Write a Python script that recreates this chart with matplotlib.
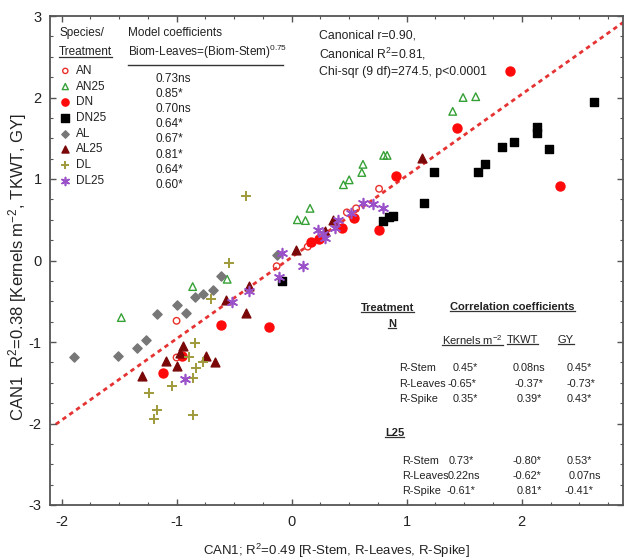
import matplotlib
matplotlib.use('Agg')
import matplotlib.pyplot as plt
from matplotlib.lines import Line2D
from matplotlib.transforms import IdentityTransform
from matplotlib.ticker import MultipleLocator

plt.rcParams['font.family'] = ['Liberation Sans', 'DejaVu Sans']
plt.rcParams['mathtext.fontset'] = 'custom'
plt.rcParams['mathtext.rm'] = 'Liberation Sans'
plt.rcParams['mathtext.it'] = 'Liberation Sans:italic'
plt.rcParams['mathtext.bf'] = 'Liberation Sans:bold'
plt.rcParams['mathtext.default'] = 'regular'
plt.rcParams['axes.unicode_minus'] = False

# ---------------- data ----------------
an_x = [0.76, 0.56, 0.48, 0.14, -0.13, -1.00, -1.00]
an_y = [0.88, 0.64, 0.59, 0.17, -0.07, -0.74, -1.19]

an25_x = [1.60, 1.49, 1.40, 0.80, 0.83, 0.62, 0.61, 0.50, 0.45, 0.16, 0.05, 0.12, -0.86, -0.56, -1.48]
an25_y = [2.01, 2.00, 1.83, 1.29, 1.29, 1.18, 1.08, 0.99, 0.93, 0.64, 0.50, 0.49, -0.32, -0.23, -0.70]

dn_x = [1.90, 1.44, 2.33, 0.91, 0.76, 0.54, 0.44, 0.24, 0.17, -0.61, -0.20, -0.95, -1.12]
dn_y = [2.32, 1.63, 0.91, 1.04, 0.38, 0.52, 0.40, 0.26, 0.23, -0.79, -0.81, -1.17, -1.38]

dn25_x = [2.63, 2.13, 2.13, 2.24, 1.93, 1.83, 1.68, 1.62, 1.24, 1.15, 0.88, 0.85, 0.79, -0.08]
dn25_y = [1.94, 1.64, 1.57, 1.37, 1.45, 1.39, 1.19, 1.09, 1.09, 0.71, 0.54, 0.53, 0.49, -0.25]

al_x = [-1.89, -1.51, -1.34, -1.27, -1.17, -1.00, -0.92, -0.84, -0.77, -0.68, -0.61, -0.13]
al_y = [-1.19, -1.17, -1.07, -0.97, -0.66, -0.55, -0.64, -0.45, -0.41, -0.36, -0.19, 0.07]

al25_x = [1.13, 0.36, 0.29, 0.04, -0.37, -0.57, -0.40, -0.94, -0.97, -0.74, -0.67, -1.09, -1.00, -1.30]
al25_y = [1.26, 0.50, 0.36, 0.13, -0.31, -0.48, -0.64, -1.05, -1.13, -1.17, -1.24, -1.23, -1.30, -1.42]

dl_x = [-0.40, -0.54, -0.70, -0.84, -0.89, -0.77, -0.83, -0.86, -1.04, -1.24, -1.17, -1.20, -0.86]
dl_y = [0.79, -0.03, -0.47, -1.01, -1.19, -1.25, -1.32, -1.44, -1.54, -1.62, -1.83, -1.95, -1.89]

dl25_x = [0.62, 0.71, 0.79, 0.52, 0.40, 0.38, 0.23, 0.29, 0.27, -0.08, 0.10, -0.11, -0.37, -0.52, -0.93]
dl25_y = [0.71, 0.69, 0.64, 0.58, 0.50, 0.40, 0.38, 0.28, 0.33, 0.09, -0.07, -0.20, -0.37, -0.51, -1.46]

labels = ['AN', 'AN25', 'DN', 'DN25', 'AL', 'AL25', 'DL', 'DL25']
model_coefs = ['0.73ns', '0.85*', '0.70ns', '0.64*', '0.67*', '0.81*', '0.64*', '0.60*']

fit_slope = 1.0
fit_intercept = 0.04
fit_x = [-2.05, 2.95]

corr_cols = ['Kernels m$^{-2}$', 'TKWT', 'GY']
corr_rows = ['R-Stem', 'R-Leaves', 'R-Spike']
corr_N = [['0.45*', '0.08ns', '0.45*'],
          ['-0.65*', '-0.37*', '-0.73*'],
          ['0.35*', '0.39*', '0.43*']]
corr_L25 = [['0.73*', '-0.80*', '0.53*'],
            ['0.22ns', '-0.62*', '0.07ns'],
            ['-0.61*', '0.81*', '-0.41*']]

# ---------------- figure ----------------
W, H = 624, 559
fig = plt.figure(figsize=(W / 100, H / 100), dpi=100)
AX_L, AX_R, AX_T, AX_B = 50, 623, 16, 505
ax = fig.add_axes([AX_L / W, 1 - AX_B / H, (AX_R - AX_L) / W, (AX_B - AX_T) / H])
ax.set_xlim(-2.1, 2.88)
ax.set_ylim(-3, 3)

def P(px, py):
    return ((px - AX_L) / (AX_R - AX_L), (AX_B - py) / (AX_B - AX_T))

TXT = '#222222'

styles = {
    'AN':   dict(marker='o', s=22, facecolors='none', edgecolors='#e8302a', linewidths=1.0),
    'AN25': dict(marker='^', s=30, facecolors='none', edgecolors='#35a035', linewidths=1.0),
    'DN':   dict(marker='o', s=42, color='#ff0a0a'),
    'DN25': dict(marker='s', s=40, color='#000000'),
    'AL':   dict(marker='D', s=22, color='#777777'),
    'AL25': dict(marker='^', s=40, color='#7a0808'),
    'DL':   dict(marker='+', s=55, color='#a09a3c', linewidths=1.4),
    'DL25': dict(marker=(6, 2, 0), s=50, color='#9a50c8', linewidths=1.2),
}
series = {
    'AN': (an_x, an_y), 'AN25': (an25_x, an25_y), 'DN': (dn_x, dn_y), 'DN25': (dn25_x, dn25_y),
    'AL': (al_x, al_y), 'AL25': (al25_x, al25_y), 'DL': (dl_x, dl_y), 'DL25': (dl25_x, dl25_y),
}

fit_y = [fit_slope * v + fit_intercept for v in fit_x]
ax.plot(fit_x, fit_y, color='#e53333', lw=2.0, linestyle=(0, (1.6, 1.4)), zorder=1)

handles = []
for lab in labels:
    xs, ys = series[lab]
    h = ax.scatter(xs, ys, zorder=3, **styles[lab])
    handles.append(h)

leg = ax.legend(handles, labels, loc='upper left', bbox_to_anchor=P(60, 65),
                frameon=False, fontsize=8.5, borderpad=0, borderaxespad=0,
                handlelength=0.9, handletextpad=0.45, labelspacing=0.31,
                scatterpoints=1, markerscale=0.8)
for t in leg.get_texts():
    t.set_color(TXT)

# axes styling
for sp in ax.spines.values():
    sp.set_color('#555555')
    sp.set_linewidth(1.3)
ax.xaxis.set_major_locator(MultipleLocator(1))
ax.xaxis.set_minor_locator(MultipleLocator(0.25))
ax.yaxis.set_major_locator(MultipleLocator(1))
ax.yaxis.set_minor_locator(MultipleLocator(0.25))
ax.tick_params(which='both', direction='in', top=True, right=True, colors='#555555',
               labelcolor=TXT, labelsize=10.5)
ax.tick_params(which='major', length=4, width=1)
ax.tick_params(which='minor', length=2.5, width=0.8)
ax.tick_params(axis='x', which='major', pad=7.5)
ax.tick_params(axis='y', which='major', pad=6)

ax.set_xlabel('CAN1; R$^2$=0.49 [R-Stem, R-Leaves, R-Spike]', fontsize=9.5, color=TXT, labelpad=9)
ax.set_ylabel('CAN1  R$^2$=0.38 [Kernels m$^{-2}$, TKWT, GY]', fontsize=12, color=TXT)
ax.yaxis.set_label_coords(-0.037, 0.487)

underlined = []

def T(px, py, s, size=8.5, ha='left', weight='normal', ul=False):
    t = ax.text(*P(px, py), s, transform=ax.transAxes, fontsize=size, ha=ha, va='center',
                color=TXT, fontweight=weight)
    if ul:
        underlined.append(t)
    return t

# top-left block
T(59, 33, 'Species/')
T(59, 52, 'Treatment', ul=True)
T(128, 33, 'Model coefficients')
T(128, 52, 'Biom-Leaves=(Biom-Stem)$^{0.75}$')
x0, y0 = P(128, 65)
x1, _ = P(283, 65)
ax.plot([x0, x1], [y0, y0], transform=ax.transAxes, color='#333333', lw=1.0)
for i, c in enumerate(model_coefs):
    T(155, 79 + i * 15.1, c)

# canonical stats
T(319, 35, 'Canonical r=0.90,', size=8.8)
T(319, 54, 'Canonical R$^2$=0.81,', size=8.8)
T(319, 72, 'Chi-sqr (9 df)=274.5, p<0.0001', size=8.8)

# correlation table
T(361, 308, 'Treatment', size=8, weight='bold', ul=True)
T(388, 324, 'N', size=8, weight='bold', ul=True)
T(450, 307, 'Correlation coefficients', size=8, weight='bold', ul=True)
col_x = [442, 507, 558]
for cx, cl in zip(col_x, corr_cols):
    T(cx, 340, cl, size=8, ul=True)

N_rows_y = [368, 384, 399]
N_val_x = [[453, 513, 567], [448, 515, 567], [453, 517, 567]]
for r, (ry, rl) in enumerate(zip(N_rows_y, corr_rows)):
    T(399, ry, rl, size=7.8)
    for c in range(3):
        T(N_val_x[r][c], ry, corr_N[r][c], size=7.8)

T(385, 433, 'L25', size=8, weight='bold', ul=True)
L_rows_y = [461, 476, 491]
L_val_x = [[449, 513, 567], [448, 513, 569], [447, 517, 565]]
for r, (ry, rl) in enumerate(zip(L_rows_y, corr_rows)):
    T(402, ry, rl, size=7.8)
    for c in range(3):
        T(L_val_x[r][c], ry, corr_L25[r][c], size=7.8)

# underline helper
fig.canvas.draw()
renderer = fig.canvas.get_renderer()
for t in underlined:
    bb = t.get_window_extent(renderer)
    yline = bb.y0 + 1.5
    fig.add_artist(Line2D([bb.x0, bb.x1], [yline, yline], transform=IdentityTransform(),
                          color='#333333', lw=0.9))

fig.savefig('out.png', dpi=100)
